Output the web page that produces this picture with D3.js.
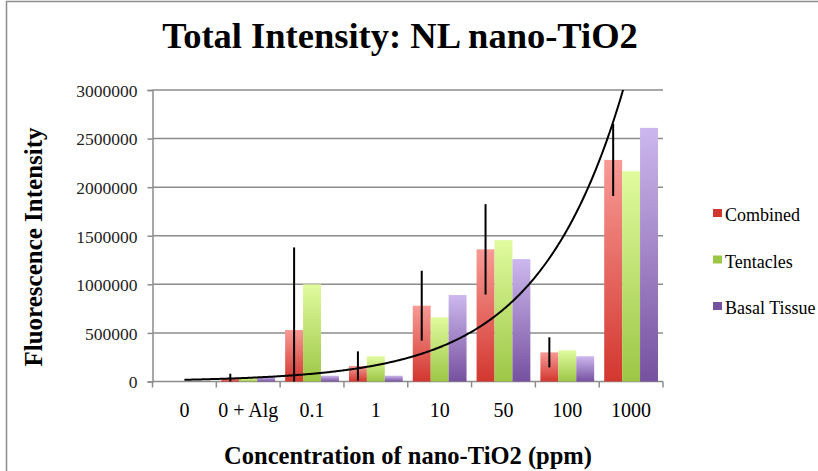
<!DOCTYPE html>
<html>
<head>
  <meta charset="utf-8">
  <title>Total Intensity</title>
  <style>
    body { margin: 0; background: #fff; }
    text { font-family: "Liberation Serif", "DejaVu Serif", serif; }
  </style>
</head>
<body>
  <svg width="818" height="471"></svg>
  <script src="https://cdnjs.cloudflare.com/ajax/libs/d3/7.8.5/d3.min.js"></script>
  <script>
    // data
    let categories = ["0", "0 + Alg", "0.1", "1", "10", "50", "100", "1000"];
    let seriesNames = ["Combined", "Tentacles", "Basal Tissue"];
    let combined = [0, 30000, 530000, 160000, 780000, 1360000, 300000, 2280000];
    let tentacles = [0, 35000, 1000000, 260000, 660000, 1455000, 320000, 2165000];
    let basal = [0, 45000, 60000, 60000, 890000, 1260000, 260000, 2610000];
    let combinedErr = [0, 50000, 850000, 150000, 360000, 465000, 155000, 370000];
    let yTicks = [0, 500000, 1000000, 1500000, 2000000, 2500000, 3000000];
    // exponential trendline y = a * exp(b * x), x = 1..8
    let trendA = 8500, trendB = 0.745;

    let svg = d3.select("svg");
    let margin = {left: 152.5, right: 663, top: 90, bottom: 381.5};

    let x = d3.scaleBand().domain(categories).range([margin.left, margin.right]).paddingInner(0).paddingOuter(0);
    let xs = d3.scaleBand().domain(seriesNames).range([0, x.bandwidth()]).paddingInner(0).paddingOuter(0.28);
    let y = d3.scaleLinear().domain([0, 3000000]).range([margin.bottom, margin.top]);

    // frame
    svg.append("rect").attr("x", 6.5).attr("y", 1.5).attr("width", 830).attr("height", 500)
       .attr("fill", "none").attr("stroke", "#8c8c8c").attr("stroke-width", 1.5);

    // gradients
    let colors = [["#f89a95", "#d2372f"], ["#e0fb9e", "#9dc646"], ["#cdb8ee", "#76519f"]];
    let defs = svg.append("defs");
    colors.forEach((c, i) => {
      let lg = defs.append("linearGradient").attr("id", "g" + i).attr("x1", 0).attr("y1", 0).attr("x2", 0).attr("y2", 1);
      lg.append("stop").attr("offset", "0%").attr("stop-color", c[0]);
      lg.append("stop").attr("offset", "100%").attr("stop-color", c[1]);
    });

    // gridlines + y axis
    let yAxis = d3.axisLeft(y).tickValues(yTicks).tickSize(5).tickFormat(d3.format("d"));
    let gy = svg.append("g").attr("transform", "translate(" + margin.left + ",0)").call(yAxis);
    gy.select(".domain").attr("stroke", "#8c8c8c").attr("stroke-width", 1.5);
    gy.selectAll(".tick line").attr("stroke", "#8c8c8c").attr("stroke-width", 1.5);
    gy.selectAll(".tick text").attr("font-family", "Liberation Sans").attr("font-size", 17.5)
      .attr("fill", "#222").attr("x", -15).attr("dy", "0.36em");
    svg.append("g").selectAll("line").data(yTicks.slice(1)).enter().append("line")
       .attr("x1", margin.left).attr("x2", margin.right)
       .attr("y1", d => y(d)).attr("y2", d => y(d))
       .attr("stroke", "#8c8c8c").attr("stroke-width", 1.5);

    // x axis
    let xAxis = d3.axisBottom(x).tickSize(0).tickPadding(21);
    let gx = svg.append("g").attr("transform", "translate(0," + margin.bottom + ")").call(xAxis);
    gx.select(".domain").remove();
    gx.selectAll(".tick text").attr("font-family", "Liberation Serif").attr("font-size", 20).attr("fill", "#000");
    let tickPos = categories.map(c => x(c)).concat([margin.right]);
    svg.append("g").selectAll("line").data(tickPos).enter().append("line")
       .attr("x1", d => d).attr("x2", d => d)
       .attr("y1", margin.bottom).attr("y2", margin.bottom + 6)
       .attr("stroke", "#8c8c8c").attr("stroke-width", 1.5);
    svg.append("line").attr("x1", margin.left).attr("x2", margin.right)
       .attr("y1", margin.bottom).attr("y2", margin.bottom)
       .attr("stroke", "#8c8c8c").attr("stroke-width", 1.5);

    // bars
    let series = [combined, tentacles, basal];
    series.forEach((vals, si) => {
      svg.append("g").selectAll("rect").data(vals).enter().append("rect")
         .attr("x", (d, i) => x(categories[i]) + xs(seriesNames[si]))
         .attr("width", xs.bandwidth())
         .attr("y", d => y(d))
         .attr("height", d => y(0) - y(d))
         .attr("fill", "url(#g" + si + ")");
    });

    // error bars on Combined
    let errData = combined.map((v, i) => ({cat: categories[i], v: v, e: combinedErr[i]})).filter(d => d.e > 0);
    let ex = d => x(d.cat) + xs(seriesNames[0]) + xs.bandwidth() / 2;
    svg.append("g").selectAll("line").data(errData).enter().append("line")
       .attr("x1", ex).attr("x2", ex)
       .attr("y1", d => y(Math.max(0, d.v - d.e)))
       .attr("y2", d => y(d.v + d.e))
       .attr("stroke", "#000").attr("stroke-width", 2);

    // trendline
    let xi = d3.scaleLinear().domain([1, categories.length]).range([x(categories[0]) + x.bandwidth() / 2, x(categories[categories.length - 1]) + x.bandwidth() / 2]);
    let pts = d3.range(1, 8.001, 0.02).map(t => [xi(t), trendA * Math.exp(trendB * t)]).filter(p => p[1] <= 3000000 * 1.01);
    svg.append("defs").append("clipPath").attr("id", "clip").append("rect")
       .attr("x", margin.left).attr("y", margin.top).attr("width", margin.right - margin.left).attr("height", margin.bottom - margin.top);
    svg.append("path").datum(pts)
       .attr("clip-path", "url(#clip)")
       .attr("d", d3.line().x(p => p[0]).y(p => y(p[1])))
       .attr("fill", "none").attr("stroke", "#000").attr("stroke-width", 2);

    // legend
    let legend = svg.append("g").selectAll("g").data(seriesNames).enter().append("g")
       .attr("transform", (d, i) => "translate(713," + (215 + i * 46.5) + ")");
    legend.append("rect").attr("x", 0).attr("y", -6).attr("width", 9).attr("height", 8)
       .attr("fill", (d, i) => colors[i][1]);
    legend.append("text").attr("x", 12).attr("y", 6).attr("font-size", 18).text(d => d);

    // titles
    svg.append("text").attr("x", 400).attr("y", 48).attr("text-anchor", "middle")
       .attr("font-size", 36.5).attr("font-weight", "bold").text("Total Intensity: NL nano-TiO2");
    svg.append("text").attr("x", 408).attr("y", 464).attr("text-anchor", "middle")
       .attr("font-size", 24.5).attr("font-weight", "bold").text("Concentration of nano-TiO2 (ppm)");
    svg.append("text").attr("transform", "translate(42,247) rotate(-90)").attr("text-anchor", "middle")
       .attr("font-size", 25).attr("font-weight", "bold").text("Fluorescence Intensity");
  </script>
</body>
</html>
